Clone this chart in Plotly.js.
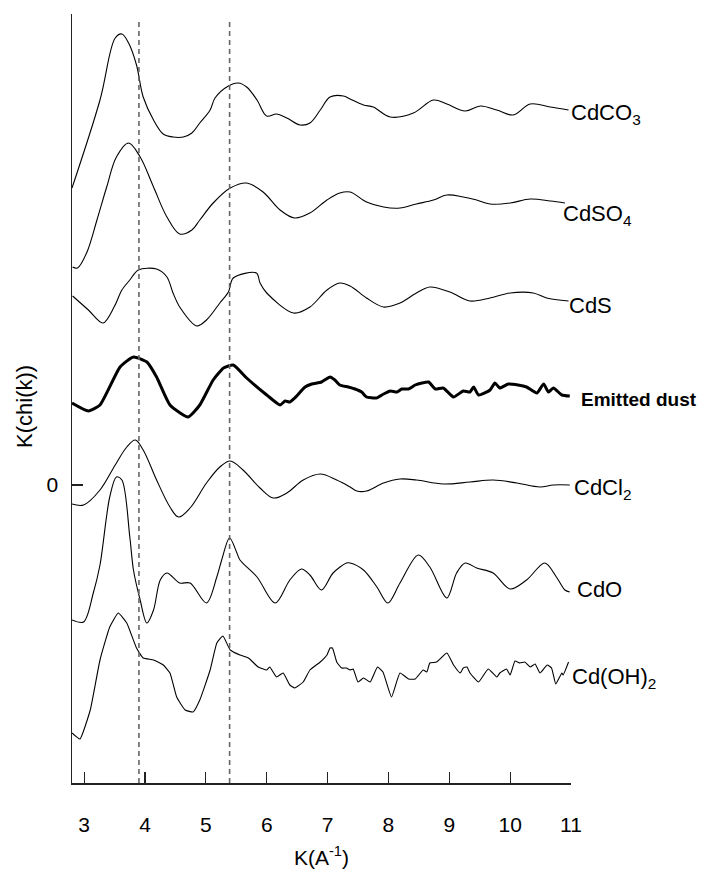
<!DOCTYPE html>
<html>
<head>
<meta charset="utf-8">
<script src="https://cdn.plot.ly/plotly-3.0.1.min.js"></script>
<style>html,body{margin:0;padding:0;background:#fff;}#chart{width:702px;height:870px;}</style>
</head>
<body>
<div id="chart"></div>
<script>
// ---- data (k in A^-1, stacked k*chi(k) with vertical offsets as drawn) ----
const xCdCO3 = [2.80,3.26,3.51,3.62,3.73,3.86,3.97,4.14,4.30,4.46,4.63,4.77,4.90,5.07,5.15,5.37,5.53,5.67,5.84,6.00,6.16,6.33,6.55,6.71,6.88,7.04,7.26,7.37,7.59,7.75,8.03,8.41,8.74,8.96,9.26,9.51,9.78,10.05,10.33,10.66,10.96];
const yCdCO3 = [2.97,3.85,4.47,4.51,4.42,4.20,3.88,3.65,3.51,3.48,3.48,3.52,3.62,3.75,3.87,3.99,4.02,3.98,3.85,3.69,3.71,3.67,3.60,3.62,3.75,3.88,3.89,3.86,3.80,3.78,3.68,3.72,3.85,3.81,3.74,3.79,3.75,3.70,3.81,3.78,3.75];

const xCdSO4 = [2.81,2.89,3.04,3.21,3.37,3.53,3.73,3.92,4.14,4.36,4.57,4.77,4.90,5.12,5.40,5.67,5.94,6.22,6.46,6.71,6.99,7.20,7.37,7.64,7.92,8.19,8.46,8.74,8.96,9.23,9.45,9.67,10.00,10.33,10.66,10.90];
const yCdSO4 = [2.18,2.17,2.32,2.65,2.98,3.28,3.42,3.28,2.98,2.68,2.51,2.55,2.65,2.82,2.97,3.02,2.93,2.75,2.67,2.72,2.85,2.92,2.93,2.83,2.78,2.77,2.81,2.85,2.90,2.88,2.85,2.81,2.82,2.86,2.84,2.82];

const xCdS = [2.81,3.07,3.31,3.50,3.62,3.75,3.89,4.19,4.36,4.46,4.57,4.85,5.01,5.23,5.37,5.45,5.83,5.89,6.00,6.44,6.71,6.99,7.20,7.37,7.64,7.92,8.19,8.46,8.68,9.01,9.34,9.67,10.00,10.38,10.60,10.96];
const yCdS = [1.89,1.75,1.62,1.79,1.95,2.05,2.15,2.16,2.08,1.92,1.78,1.59,1.65,1.82,1.93,2.07,2.12,2.02,1.92,1.72,1.78,1.95,2.02,1.99,1.87,1.78,1.82,1.92,1.98,1.93,1.84,1.87,1.92,1.92,1.87,1.84];

const xDust = [2.80,3.07,3.26,3.59,3.81,4.03,4.19,4.41,4.71,4.90,5.12,5.29,5.45,5.67,6.00,6.22,6.30,6.38,6.46,6.63,6.74,6.90,7.04,7.12,7.20,7.34,7.45,7.56,7.64,7.80,7.92,8.03,8.14,8.22,8.33,8.44,8.55,8.66,8.77,8.90,9.07,9.23,9.34,9.40,9.48,9.67,9.75,9.83,9.97,10.13,10.27,10.44,10.55,10.63,10.71,10.85,10.98];
const yDust = [0.82,0.74,0.80,1.18,1.28,1.23,1.08,0.80,0.68,0.80,1.05,1.17,1.20,1.07,0.90,0.80,0.84,0.83,0.87,0.98,1.01,1.03,1.08,1.05,1.00,0.98,0.96,0.93,0.88,0.87,0.91,0.94,0.93,0.96,0.96,1.00,1.02,1.03,0.96,0.97,0.88,0.94,0.93,0.98,0.90,0.95,1.02,0.97,1.01,1.00,0.98,0.92,1.01,0.93,0.97,0.90,0.89];

const xCdCl2 = [2.80,2.99,3.26,3.51,3.70,3.84,3.97,4.19,4.41,4.55,4.74,5.01,5.23,5.40,5.61,5.89,6.11,6.33,6.60,6.88,7.15,7.37,7.48,7.64,7.92,8.19,8.46,8.90,9.34,9.72,10.11,10.49,10.71,10.98];
const yCdCl2 = [-0.19,-0.20,-0.05,0.20,0.38,0.45,0.35,0.05,-0.22,-0.32,-0.23,0.02,0.18,0.24,0.15,-0.03,-0.13,-0.08,0.05,0.11,0.05,-0.02,-0.06,-0.06,0.02,0.06,0.05,0.01,0.03,0.05,0.02,-0.02,0.00,0.00];

const xCdO = [2.80,2.99,3.15,3.26,3.42,3.53,3.62,3.75,3.81,3.92,4.03,4.14,4.25,4.36,4.57,4.74,5.01,5.18,5.26,5.39,5.51,5.56,5.84,6.14,6.38,6.57,6.71,6.90,7.09,7.31,7.37,7.59,7.81,7.99,8.19,8.49,8.68,8.96,9.12,9.26,9.45,9.72,10.00,10.27,10.57,10.76,10.90,10.98];
const yCdO = [-1.35,-1.37,-1.08,-0.80,-0.12,0.08,0.05,-0.52,-0.85,-1.15,-1.38,-1.25,-0.95,-0.88,-0.98,-0.98,-1.18,-0.92,-0.75,-0.53,-0.68,-0.75,-0.92,-1.18,-0.95,-0.84,-0.90,-1.05,-0.88,-0.78,-0.78,-0.85,-1.02,-1.18,-0.98,-0.70,-0.82,-1.13,-0.88,-0.78,-0.83,-0.88,-1.04,-0.95,-0.78,-0.92,-1.05,-1.07];

const xCdOH2 = [2.80,2.93,3.10,3.26,3.42,3.56,3.70,3.86,3.97,4.14,4.30,4.41,4.52,4.66,4.79,4.90,5.07,5.18,5.28,5.40,5.56,5.70,5.86,6.00,6.05,6.16,6.27,6.38,6.46,6.60,6.71,6.88,6.99,7.04,7.08,7.15,7.23,7.31,7.37,7.42,7.50,7.59,7.70,7.82,7.91,8.05,8.19,8.33,8.44,8.57,8.63,8.68,8.79,8.96,9.07,9.18,9.23,9.29,9.34,9.48,9.64,9.78,9.83,9.94,10.00,10.08,10.16,10.24,10.33,10.41,10.49,10.61,10.68,10.75,10.85,10.87,10.96];
const yCdOH2 = [-2.48,-2.54,-2.25,-1.75,-1.42,-1.28,-1.38,-1.63,-1.73,-1.75,-1.80,-1.88,-2.12,-2.25,-2.27,-2.15,-1.85,-1.58,-1.51,-1.65,-1.70,-1.73,-1.82,-1.85,-1.82,-1.92,-1.88,-2.00,-2.03,-1.97,-1.85,-1.77,-1.70,-1.63,-1.63,-1.77,-1.83,-1.83,-1.85,-1.84,-1.97,-1.93,-1.97,-1.82,-1.87,-2.12,-1.88,-1.94,-1.94,-1.85,-1.87,-1.78,-1.77,-1.68,-1.80,-1.88,-1.83,-1.82,-1.88,-1.97,-1.84,-1.92,-1.88,-1.84,-1.90,-1.76,-1.78,-1.77,-1.82,-1.79,-1.88,-1.80,-1.83,-1.99,-1.88,-1.90,-1.77];

const seriesNames = ["CdCO<sub>3</sub>","CdSO<sub>4</sub>","CdS","<b>Emitted dust</b>","CdCl<sub>2</sub>","CdO","Cd(OH)<sub>2</sub>"];
const refLines = [3.90, 5.39];
const xTicks = [3,4,5,6,7,8,9,10,11];
const yTicks = [0];

// ---- styling ----
const FONT = "Liberation Sans, Arial, sans-serif";
const xs = [xCdCO3,xCdSO4,xCdS,xDust,xCdCl2,xCdO,xCdOH2];
const ys = [yCdCO3,yCdSO4,yCdS,yDust,yCdCl2,yCdO,yCdOH2];
const widths = [1.1,1.1,1.1,3,1.1,1.1,1.1];
const smooth = [1.0,1.0,0.9,0.5,1.0,0.9,0.4];
const labelStyle = [
  {xshift:0, yshift:-4, size:22},
  {xshift:-4, yshift:-12, size:22},
  {xshift:-2, yshift:-4, size:22},
  {xshift:9, yshift:-3, size:19},
  {xshift:2, yshift:-4, size:22},
  {xshift:5, yshift:3, size:22},
  {xshift:1, yshift:-16, size:22}
];

const traces = xs.map((x,i)=>({
  x: x, y: ys[i], type:'scatter', mode:'lines',
  line:{color:'#000', width:widths[i], shape:'spline', smoothing:smooth[i]},
  hoverinfo:'skip', showlegend:false
}));

const annotations = seriesNames.map((t,i)=>({
  x: xs[i][xs[i].length-1], y: ys[i][ys[i].length-1], xref:'x', yref:'y',
  text: t, showarrow:false, xanchor:'left', yanchor:'middle',
  xshift: labelStyle[i].xshift, yshift: labelStyle[i].yshift,
  font:{family:FONT, size:labelStyle[i].size, color:'#000'}
}));
annotations.push({
  xref:'paper', yref:'paper', x:0, y:0.489, xanchor:'center', yanchor:'middle',
  xshift:-47, textangle:-90, showarrow:false, text:'K(chi(k))',
  font:{family:FONT, size:22, color:'#000'}
});

const shapes = refLines.map(v=>({
  type:'line', xref:'x', yref:'paper', x0:v, x1:v, y0:0, y1:0.99,
  line:{color:'#666', width:1.6, dash:'5px,4px'}
}));

const layout = {
  width:702, height:870,
  margin:{l:72, r:131, t:14, b:87},
  paper_bgcolor:'#fff', plot_bgcolor:'#fff',
  font:{family:FONT, size:21, color:'#000'},
  showlegend:false,
  xaxis:{
    range:[2.8,11], tickvals:xTicks, ticks:'inside', ticklen:11, tickwidth:1.2, tickcolor:'#222',
    showline:true, linecolor:'#222', linewidth:1.5, showgrid:false, zeroline:false,
    tickfont:{family:FONT, size:21}, ticklabelstandoff:22,
    title:{text:'K(A<sup>-1</sup>)', font:{family:FONT, size:21}, standoff:15}
  },
  yaxis:{
    range:[-2.98,4.71], tickvals:yTicks, ticks:'inside', ticklen:11, tickwidth:1.2, tickcolor:'#222',
    showline:true, linecolor:'#222', linewidth:1.5, showgrid:false, zeroline:false,
    tickfont:{family:FONT, size:21}, ticklabelstandoff:8
  },
  shapes: shapes,
  annotations: annotations
};

Plotly.newPlot('chart', traces, layout, {staticPlot:true, displayModeBar:false});
</script>
</body>
</html>
